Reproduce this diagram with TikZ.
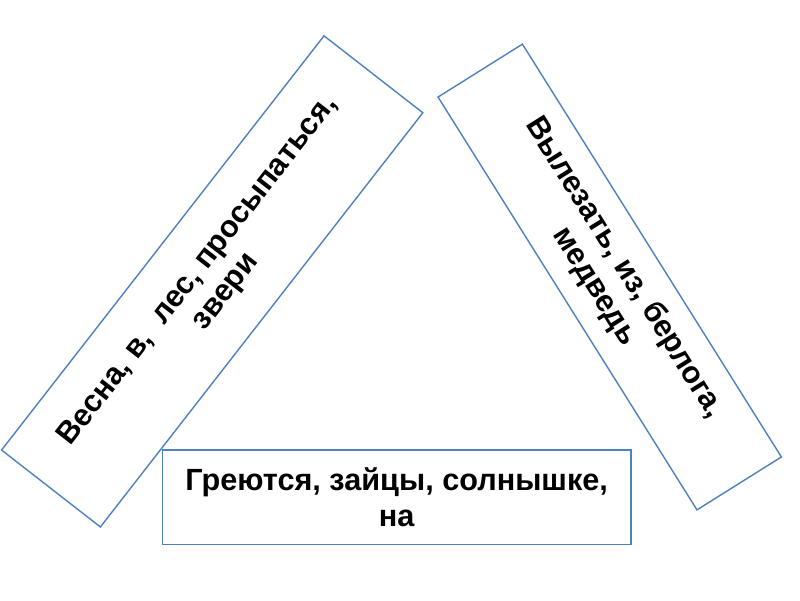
\documentclass[tikz,border=0pt]{standalone}
\usepackage{fontspec}
\setmainfont{Liberation Sans}
\usetikzlibrary{positioning}

\definecolor{boxblue}{HTML}{4F81BD}

\begin{document}
\begin{tikzpicture}[x=0.025cm, y=0.025cm,
    card/.style={draw=boxblue, line width=1pt, fill=white, inner sep=0pt,
        align=center, anchor=center,
        font={\fontsize{21.8}{25}\selectfont\bfseries}}
    ]

    \useasboundingbox (0,0) rectangle (800,600);

    % Word cards
    \node[card, minimum width=13.12cm, minimum height=3.13cm, rotate=52.1] (vesna) at (212.2,318.6)
        {Весна, в,\ \ лес, просыпаться,\\ звери};
    \node[card, minimum width=12.18cm, minimum height=2.49cm, rotate=-57.9] (medved) at (609.7,323)
        {Вылезать, из, берлога,\\ медведь};
    \node[card, minimum width=11.72cm, minimum height=2.36cm] (zaicy) at (396.7,102.8)
        {Греются, зайцы, солнышке,\\ на};

\end{tikzpicture}
\end{document}
